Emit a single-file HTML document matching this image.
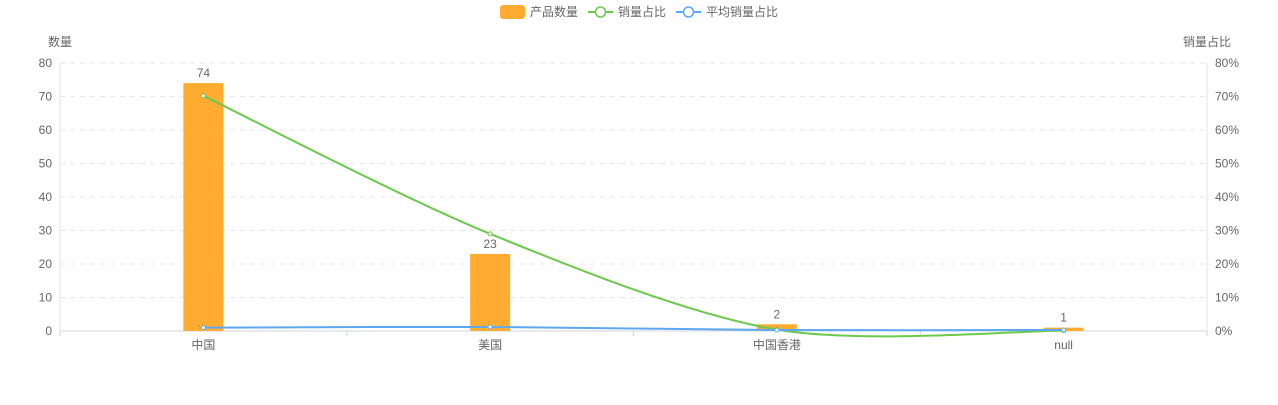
<!DOCTYPE html>
<html><head><meta charset="utf-8"><style>
body{margin:0;background:#fff;font-family:"Liberation Sans","Noto Sans CJK SC",sans-serif;}
svg text{font-family:"Liberation Sans","Noto Sans CJK SC",sans-serif;font-size:12px;fill:#666;}
</style></head><body>
<svg id="c" width="1278" height="400"></svg>
<script>
const categories=["中国","美国","中国香港","null"];
const counts=[74,23,2,1];
const salesShare=[70.2,29,0.4,0.1];
const avgShare=[1,1.2,0.3,0.3];
const leftTicks=[0,10,20,30,40,50,60,70,80];
const rightTicks=["0%","10%","20%","30%","40%","50%","60%","70%","80%"];
const NS="http://www.w3.org/2000/svg";
const svg=document.getElementById('c');
const X0=60,X1=1207,Y0=331,Y1=63;
const bw=(X1-X0)/categories.length;
const xc=i=>X0+bw*(i+0.5);
const yL=v=>Y0-(v/80)*(Y0-Y1);
const yR=v=>Y0-(v/80)*(Y0-Y1);
function mk(t,a,txt){const e=document.createElementNS(NS,t);for(const k in a)e.setAttribute(k,a[k]);if(txt!=null)e.textContent=txt;svg.appendChild(e);return e;}
leftTicks.forEach((v,i)=>{
 const y=yL(v);
 if(v>0){const g=mk('line',{x1:X0,x2:X1,y1:y,y2:y,stroke:'#e0e6f1','stroke-dasharray':'5,5'});
 
 }
 const t=mk('text',{x:X0-8,y:y+4,'text-anchor':'end'},v);
 
 
 const r=mk('text',{x:X1+8,y:y+4,'text-anchor':'start'},rightTicks[i]);
 
 
});
mk('line',{x1:X0,x2:X0,y1:Y1,y2:Y0,stroke:'#e0e6f1'});
mk('line',{x1:X1,x2:X1,y1:Y1,y2:Y0,stroke:'#e0e6f1'});
mk('line',{x1:X0,x2:X1,y1:Y0,y2:Y0,stroke:'#d0d4e0'});
for(let i=0;i<=categories.length;i++)mk('line',{x1:X0+bw*i,x2:X0+bw*i,y1:Y0,y2:Y0+5,stroke:'#d0d4e0'});
const t1=mk('text',{x:48,y:46},'数量');


const t2=mk('text',{x:1231,y:46,'text-anchor':'end'},'销量占比');


categories.forEach((c,i)=>{
 const t=mk('text',{x:xc(i),y:Y0+18,'text-anchor':'middle'},c);
 
 
 const b=mk('rect',{x:xc(i)-20,y:yL(counts[i]),width:40,height:Y0-yL(counts[i]),fill:'#ffac30'});
 
 
 const l=mk('text',{x:xc(i),y:yL(counts[i])-6,'text-anchor':'middle'},counts[i]);
 
 
});
function smooth(pts){let d='M'+pts[0][0]+','+pts[0][1];const s=0.3;
 for(let i=0;i<pts.length-1;i++){const p0=pts[i-1]||pts[i],p1=pts[i],p2=pts[i+1],p3=pts[i+2]||p2;
  const c1=[p1[0]+(p2[0]-p0[0])*s/ (i==0?1:2)*(i==0?0.5:1),p1[1]+(p2[1]-p0[1])*s/(i==0?2:2)];
  const c2=[p2[0]-(p3[0]-p1[0])*s/2,p2[1]-(p3[1]-p1[1])*s/2];
  d+=' C'+c1[0]+','+c1[1]+' '+c2[0]+','+c2[1]+' '+p2[0]+','+p2[1];}
 return d;}
function series(vals,color,name){
 const pts=vals.map((v,i)=>[xc(i),yR(v)]);
 const p=mk('path',{d:smooth(pts),fill:'none',stroke:color,'stroke-width':2});
 
 
 pts.forEach(q=>{const c=mk('circle',{cx:q[0],cy:q[1],r:2,fill:'#fff',stroke:color,'stroke-width':1});
 
 });
}
series(salesShare,'#6dc84c','sales-share');
series(avgShare,'#5ea8f2','avg-share');
// legend
const lg=[[500,'rect','#ffac30','产品数量'],[588,'line','#6dc84c','销量占比'],[676,'line','#5ea8f2','平均销量占比']];
lg.forEach(([x,t,c,txt])=>{
 if(t=='rect'){const r=mk('rect',{x:x,y:5,width:25,height:14,rx:3,fill:c});
 }
 else{mk('line',{x1:x,x2:x+25,y1:12,y2:12,stroke:c,'stroke-width':2});
 mk('circle',{cx:x+12.5,cy:12,r:5,fill:'#fff',stroke:c,'stroke-width':1.5});}
 const tt=mk('text',{x:x+30,y:16},txt);
 
 
});
</script>
</body></html>
